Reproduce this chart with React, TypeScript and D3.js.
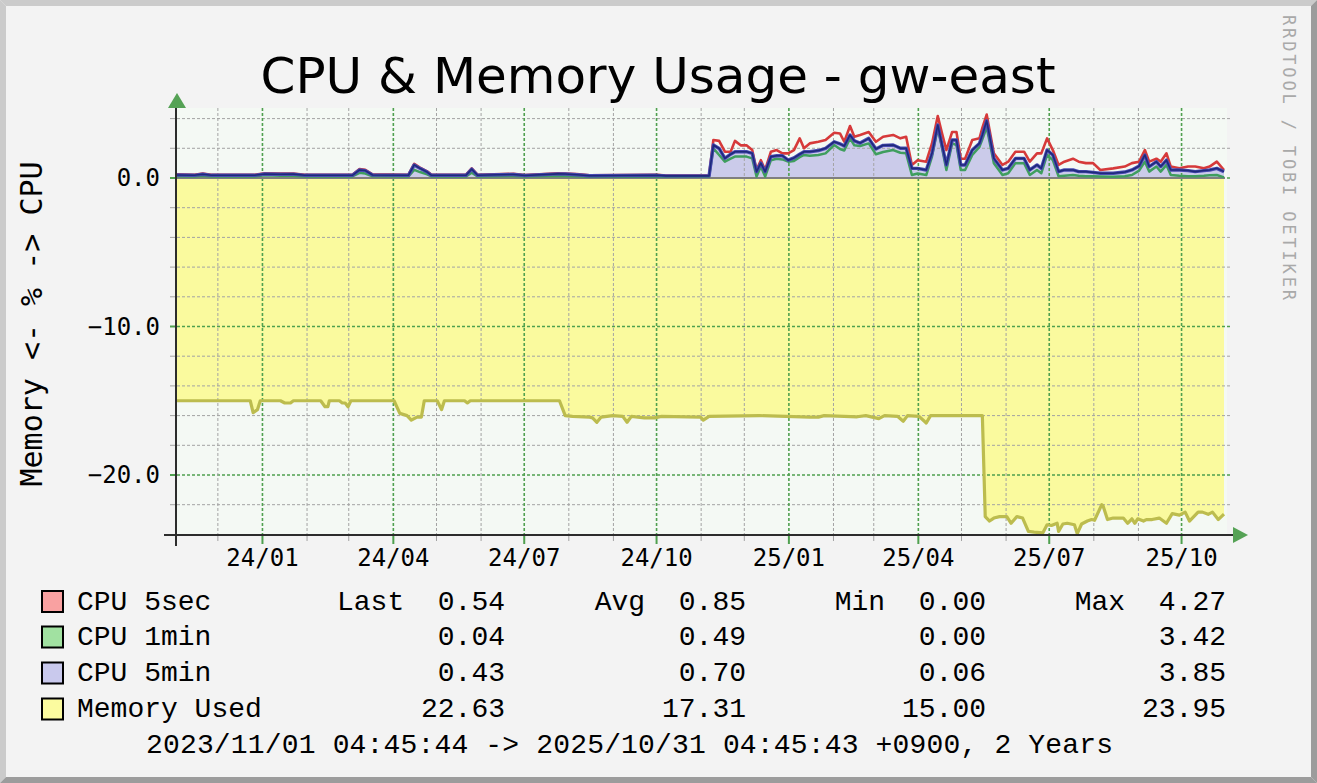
import React from "react";
import * as d3 from "d3";

// ---------- DATA ----------
const titleText = "CPU & Memory Usage - gw-east";
const yAxisTitle = "Memory <- % -> CPU";
const watermark = "RRDTOOL / TOBI OETIKER";
const periodText = "2023/11/01 04:45:44 -> 2025/10/31 04:45:43 +0900, 2 Years";

const cpuDates = [
  "2023-11-01", "2023-11-14", "2023-11-20", "2023-11-26", "2023-12-26", "2024-01-02", "2024-01-13", "2024-01-22",
  "2024-01-30", "2024-03-03", "2024-03-08", "2024-03-12", "2024-03-17", "2024-04-11", "2024-04-15", "2024-04-19",
  "2024-04-24", "2024-04-27", "2024-05-21", "2024-05-25", "2024-05-29", "2024-06-23", "2024-07-01", "2024-07-24",
  "2024-07-29", "2024-08-06", "2024-08-15", "2024-10-01", "2024-10-07", "2024-11-06",
  "2024-11-09", "2024-11-13", "2024-11-17", "2024-11-21", "2024-11-24", "2024-11-28", "2024-12-02", "2024-12-06",
  "2024-12-09", "2024-12-12", "2024-12-15", "2024-12-19", "2024-12-23", "2024-12-27", "2024-12-31", "2025-01-04",
  "2025-01-08", "2025-01-11", "2025-01-15", "2025-01-21", "2025-01-26", "2025-02-01", "2025-02-05", "2025-02-08",
  "2025-02-12", "2025-02-15", "2025-02-19", "2025-02-25", "2025-03-02", "2025-03-07", "2025-03-14", "2025-03-19",
  "2025-03-23", "2025-03-27", "2025-03-31", "2025-04-06", "2025-04-10", "2025-04-14", "2025-04-17", "2025-04-20",
  "2025-04-24", "2025-04-27", "2025-04-30", "2025-05-03", "2025-05-08", "2025-05-13", "2025-05-15", "2025-05-18",
  "2025-05-23", "2025-05-29", "2025-06-02", "2025-06-07", "2025-06-13", "2025-06-17", "2025-06-22", "2025-06-25",
  "2025-06-29", "2025-07-03", "2025-07-07", "2025-07-11", "2025-07-17", "2025-07-21", "2025-07-26", "2025-07-31",
  "2025-08-05", "2025-08-14", "2025-08-22", "2025-08-27", "2025-09-01", "2025-09-05", "2025-09-08", "2025-09-13",
  "2025-09-16", "2025-09-20", "2025-09-23", "2025-09-29", "2025-10-05", "2025-10-10", "2025-10-16", "2025-10-20",
  "2025-10-25", "2025-10-30",
];
const cpu5sec = [
  0.25, 0.22, 0.30, 0.22, 0.22, 0.32, 0.30, 0.30,
  0.22, 0.22, 0.60, 0.55, 0.25, 0.22, 0.95, 0.70,
  0.45, 0.22, 0.22, 0.65, 0.22, 0.28, 0.20, 0.32,
  0.30, 0.26, 0.18, 0.22, 0.16, 0.16,
  2.56, 2.50, 1.77, 1.77, 2.50, 2.20, 2.20, 1.88,
  0.54, 1.20, 0.54, 1.77, 1.88, 1.66, 1.66, 1.88,
  2.67, 2.00, 2.33, 2.44, 2.56, 3.05, 3.00, 2.44,
  3.50, 2.78, 2.90, 3.10, 2.44, 2.78, 2.90, 2.67,
  2.78, 0.88, 1.20, 1.10, 2.33, 4.17, 3.00, 1.88,
  3.10, 3.10, 1.30, 1.30, 2.56, 2.67, 3.37, 4.27,
  1.66, 0.88, 1.10, 1.77, 1.77, 1.10, 1.66, 1.66,
  2.67, 1.88, 0.88, 1.10, 1.30, 1.10, 1.00, 1.00,
  0.54, 0.65, 0.77, 1.00, 1.10, 1.88, 1.10, 1.30,
  1.10, 1.66, 0.77, 0.65, 0.77, 0.77, 0.65, 0.77,
  1.10, 0.54,
];
const cpu1min = [
  0.12, 0.10, 0.15, 0.10, 0.10, 0.18, 0.15, 0.15,
  0.10, 0.10, 0.35, 0.30, 0.12, 0.10, 0.55, 0.40,
  0.25, 0.10, 0.10, 0.35, 0.10, 0.14, 0.10, 0.15,
  0.14, 0.12, 0.08, 0.10, 0.08, 0.08,
  2.00, 1.55, 1.10, 1.30, 1.44, 1.44, 1.44, 1.32,
  0.10, 0.77, 0.10, 1.20, 1.30, 1.25, 1.10, 1.15,
  1.40, 1.55, 1.50, 1.55, 1.66, 2.22, 1.95, 1.85,
  2.67, 2.20, 2.15, 2.33, 1.60, 1.75, 1.88, 1.70,
  1.66, 0.20, 0.30, 0.20, 1.44, 3.35, 2.00, 0.54,
  2.33, 2.22, 0.54, 0.54, 1.55, 2.10, 2.60, 3.42,
  1.00, 0.20, 0.32, 1.00, 1.00, 0.20, 0.54, 0.32,
  1.55, 1.20, 0.12, 0.15, 0.20, 0.15, 0.12, 0.12,
  0.10, 0.08, 0.12, 0.20, 0.50, 1.10, 0.43, 0.77,
  0.43, 0.88, 0.20, 0.15, 0.12, 0.12, 0.15, 0.18,
  0.20, 0.04,
];
const cpu5min = [
  0.20, 0.18, 0.25, 0.18, 0.18, 0.27, 0.25, 0.26,
  0.18, 0.18, 0.54, 0.50, 0.20, 0.18, 0.88, 0.65,
  0.40, 0.18, 0.18, 0.60, 0.18, 0.24, 0.17, 0.28,
  0.27, 0.22, 0.15, 0.18, 0.14, 0.14,
  2.22, 1.99, 1.32, 1.60, 1.77, 1.77, 1.77, 1.66,
  0.43, 1.00, 0.43, 1.44, 1.50, 1.50, 1.20, 1.35,
  1.60, 1.77, 1.77, 1.85, 2.00, 2.44, 2.30, 2.15,
  2.90, 2.50, 2.35, 2.67, 1.95, 2.20, 2.22, 2.00,
  2.00, 0.65, 0.65, 0.54, 1.66, 3.57, 2.22, 0.88,
  2.56, 2.56, 0.88, 0.88, 1.88, 2.33, 2.90, 3.85,
  1.32, 0.54, 0.65, 1.32, 1.32, 0.54, 0.88, 0.65,
  1.88, 1.55, 0.43, 0.54, 0.54, 0.43, 0.43, 0.38,
  0.32, 0.32, 0.40, 0.54, 0.80, 1.55, 0.77, 1.10,
  0.77, 1.20, 0.54, 0.54, 0.50, 0.43, 0.50, 0.54,
  0.65, 0.43,
];

const memDates = [
  "2023-11-01", "2023-12-23", "2023-12-25", "2023-12-28", "2023-12-30", "2024-01-13", "2024-01-16", "2024-01-20",
  "2024-01-22", "2024-02-10", "2024-02-13", "2024-02-15", "2024-02-16", "2024-02-23", "2024-02-25", "2024-02-27",
  "2024-02-29", "2024-03-02", "2024-04-01", "2024-04-05", "2024-04-10", "2024-04-13", "2024-04-17", "2024-04-20",
  "2024-04-22", "2024-05-01", "2024-05-04", "2024-05-06", "2024-05-20", "2024-05-22", "2024-05-24", "2024-07-25",
  "2024-07-29", "2024-08-03", "2024-08-15", "2024-08-17", "2024-08-20", "2024-08-23", "2024-08-31", "2024-09-07",
  "2024-09-10", "2024-09-13", "2024-09-22", "2024-09-29", "2024-10-04", "2024-10-31", "2024-11-02", "2024-11-06",
  "2024-12-11", "2025-01-15", "2025-01-21", "2025-01-25", "2025-02-17", "2025-02-23", "2025-03-04", "2025-03-08",
  "2025-03-17", "2025-03-21", "2025-03-24", "2025-04-01", "2025-04-06", "2025-04-09", "2025-05-15", "2025-05-17",
  "2025-05-20", "2025-05-23", "2025-05-27", "2025-06-01", "2025-06-04", "2025-06-08", "2025-06-12", "2025-06-16",
  "2025-06-20", "2025-06-26", "2025-06-29", "2025-07-02", "2025-07-06", "2025-07-07", "2025-07-10", "2025-07-13",
  "2025-07-18", "2025-07-20", "2025-07-23", "2025-07-27", "2025-07-30", "2025-08-01", "2025-08-06", "2025-08-07",
  "2025-08-10", "2025-08-14", "2025-08-21", "2025-08-24", "2025-08-27", "2025-08-29", "2025-08-31", "2025-09-04",
  "2025-09-06", "2025-09-10", "2025-09-15", "2025-09-20", "2025-09-24", "2025-09-29", "2025-10-03", "2025-10-06",
  "2025-10-12", "2025-10-15", "2025-10-19", "2025-10-22", "2025-10-26", "2025-10-30",
];
const memUsed = [
  15.0, 15.0, 15.8, 15.6, 15.0, 15.0, 15.15, 15.15,
  15.0, 15.0, 15.4, 15.4, 15.0, 15.0, 15.15, 15.15,
  15.4, 15.0, 15.0, 15.85, 16.0, 16.3, 16.1, 16.1,
  15.0, 15.0, 15.6, 15.0, 15.0, 15.15, 15.0, 15.0,
  16.0, 16.05, 16.1, 16.15, 16.45, 16.1, 16.0, 16.05,
  16.45, 16.05, 16.15, 16.15, 16.05, 16.1, 16.3, 16.05,
  16.0, 16.1, 16.1, 16.0, 16.08, 16.0, 16.2, 16.0,
  16.05, 16.38, 16.0, 16.05, 16.5, 16.0, 16.0, 22.8,
  23.1, 22.9, 22.8, 22.8, 23.25, 22.8, 22.9, 23.8,
  23.85, 23.9, 23.35, 23.4, 23.25, 23.8, 23.3, 23.25,
  23.35, 23.95, 23.3, 23.1, 23.0, 23.05, 22.0, 22.1,
  23.0, 22.9, 22.9, 23.25, 22.95, 23.25, 22.95, 23.1,
  23.0, 23.0, 22.9, 23.25, 22.6, 22.7, 22.5, 23.1,
  22.5, 22.5, 22.65, 22.5, 23.0, 22.63,
];

const legendLabels = ["CPU 5sec", "CPU 1min", "CPU 5min", "Memory Used"];
const legendLast = ["0.54", "0.04", "0.43", "22.63"];
const legendAvg = ["0.85", "0.49", "0.70", "17.31"];
const legendMin = ["0.00", "0.00", "0.06", "15.00"];
const legendMax = ["4.27", "3.42", "3.85", "23.95"];
const legendSwatch = ["#f9a1a1", "#a1e1a1", "#c9c9ed", "#fbfb9f"];

const yLabelValues = [0, -10, -20];
const startTime = Date.UTC(2023, 10, 1, 4, 45, 44);
const endTime = Date.UTC(2025, 9, 31, 4, 45, 43);

// ---------- HELPERS ----------
const parseDay = (s: string) => {
  const [yy, mm, dd] = s.split("-").map(Number);
  return new Date(Date.UTC(yy, mm - 1, dd, 12));
};

export default function App() {
  const W = 1317, H = 783;
  const cL = 177, cR = 1227, cT = 108, cB = 535;
  const x = d3.scaleUtc().domain([new Date(startTime), new Date(endTime)]).range([175, 1225]);
  const y = d3.scaleLinear().domain([-24, 4.7]).range([534.4, 108.2]);

  const cpu = cpuDates.map((d, i) => ({ t: parseDay(d), r: cpu5sec[i], g: cpu1min[i], b: cpu5min[i] }));
  const mem = memDates.map((d, i) => ({ t: parseDay(d), v: memUsed[i] }));

  const memArea = d3.area<any>().x(d => x(d.t)).y0(y(0)).y1(d => y(-d.v))(mem) || "";
  const memLine = d3.line<any>().x(d => x(d.t)).y(d => y(-d.v))(mem) || "";
  const cpuArea = d3.area<any>().x(d => x(d.t)).y0(y(0)).y1(d => y(d.b))(cpu) || "";
  const lineR = d3.line<any>().x(d => x(d.t)).y(d => y(d.r))(cpu) || "";
  const lineG = d3.line<any>().x(d => x(d.t)).y(d => y(d.g))(cpu) || "";
  const lineB = d3.line<any>().x(d => x(d.t)).y(d => y(d.b))(cpu) || "";

  const months = d3.utcMonth.range(new Date(startTime), new Date(endTime));
  const fmt = d3.utcFormat("%y/%m");
  const hVals = d3.range(-22, 5, 2);

  const green = "#4fa04f";
  const gray = "#a3a3a3";
  const mono = "'DejaVu Sans Mono', monospace";
  const legendFont = "'Liberation Mono', 'Courier New', monospace";
  const rowBase = [609.5, 645, 681, 717];

  return (
    <svg width={W} height={H} style={{ position: "absolute", left: 0, top: 0, display: "block" }}>
      <rect x={0} y={0} width={W} height={H} fill="#f3f3f3" />
      {/* bevel frame */}
      <polygon points={`0,0 ${W},0 ${W - 6},6 6,6`} fill="#cbcbcb" />
      <polygon points={`0,0 6,6 6,${H - 6} 0,${H}`} fill="#cbcbcb" />
      <polygon points={`${W},0 ${W},${H} ${W - 6},${H - 6} ${W - 6},6`} fill="#9c9c9c" />
      <polygon points={`0,${H} ${W},${H} ${W - 6},${H - 6} 6,${H - 6}`} fill="#9c9c9c" />

      {/* title */}
      <text x={658} y={93} textAnchor="middle" fontFamily="'DejaVu Sans', sans-serif" fontSize={50} fill="#000">{titleText}</text>

      {/* watermark */}
      <text transform="translate(1283,15) rotate(90)" fontFamily={mono} fontSize={17} fill="#a9a9a9"
        textLength={285} lengthAdjust="spacing">{watermark}</text>

      {/* y axis title */}
      <text transform="translate(42,324) rotate(-90)" textAnchor="middle" fontFamily={mono} fontSize={30} fill="#000"
        style={{ whiteSpace: "pre" }}>{yAxisTitle}</text>

      {/* canvas */}
      <rect x={cL} y={cT} width={cR - cL} height={cB - cT} fill="#f4f9f4" />
      <path d={memArea} fill="#fafa9e" />
      <path d={cpuArea} fill="#cbcbea" />

      {/* horizontal grid */}
      {hVals.map(v => {
        const major = v % 10 === 0;
        const yy = y(v);
        return (
          <g key={"h" + v}>
            <line x1={170} x2={cL} y1={yy} y2={yy} stroke={major ? green : gray} strokeWidth={major ? 2 : 1} />
            <line x1={cL} x2={1232} y1={yy} y2={yy} stroke={major ? green : gray} strokeWidth={major ? 1.6 : 1}
              strokeDasharray="3,2" />
          </g>
        );
      })}
      {/* vertical grid */}
      {months.map(m => {
        const major = m.getUTCMonth() % 3 === 0;
        const xx = x(m);
        return (
          <g key={"v" + m.getTime()}>
            <line x1={xx} x2={xx} y1={cT} y2={cB} stroke={major ? green : gray} strokeWidth={major ? 1.6 : 1}
              strokeDasharray="3,2" />
            <line x1={xx} x2={xx} y1={cB} y2={major ? 544 : 541} stroke={major ? green : gray} strokeWidth={major ? 2 : 1} />
          </g>
        );
      })}

      {/* zero rule */}
      <line x1={cL} x2={1225} y1={y(0)} y2={y(0)} stroke="#7f7f7f" strokeWidth={2} />

      {/* series lines */}
      <path d={memLine} fill="none" stroke="#bcbc4e" strokeWidth={3.2} strokeLinejoin="round" />
      <path d={lineG} fill="none" stroke="#3f9e5e" strokeWidth={2.5} strokeLinejoin="round" />
      <path d={lineR} fill="none" stroke="#d63a3a" strokeWidth={2.6} strokeLinejoin="round" />
      <path d={lineB} fill="none" stroke="#4a4ab4" strokeWidth={3.4} strokeLinejoin="round" />
      <path d={lineB} fill="none" stroke="#1e2a7a" strokeWidth={1.6} strokeLinejoin="round" />

      {/* axes */}
      <line x1={164} x2={1234} y1={cB} y2={cB} stroke="#2c2c2c" strokeWidth={2} />
      <line x1={176} x2={176} y1={104} y2={546} stroke="#2c2c2c" strokeWidth={2} />
      <polygon points="168,108 186,108 177,93" fill="#55a255" />
      <polygon points="1233,527 1233,543 1248,535" fill="#55a255" />

      {/* y labels */}
      {yLabelValues.map(v => (
        <text key={"yl" + v} x={160} y={y(v) + 8.5} textAnchor="end" fontFamily={mono} fontSize={24} fill="#000">
          {d3.format(".1f")(v)}
        </text>
      ))}
      {/* x labels */}
      {months.filter(m => m.getUTCMonth() % 3 === 0).map(m => (
        <text key={"xl" + m.getTime()} x={x(m)} y={566} textAnchor="middle" fontFamily={mono} fontSize={24} fill="#000">
          {fmt(m)}
        </text>
      ))}

      {/* legend */}
      {legendLabels.map((lab, i) => (
        <g key={"lg" + i}>
          <rect x={42} y={rowBase[i] - 18.5} width={21} height={21} fill={legendSwatch[i]} stroke="#000" strokeWidth={2} />
          <text x={77} y={rowBase[i]} fontFamily={legendFont} fontSize={28} fill="#000">{lab}</text>
          <text x={505} y={rowBase[i]} textAnchor="end" fontFamily={legendFont} fontSize={28} fill="#000" style={{ whiteSpace: "pre" }}>
            {(i === 0 ? "Last  " : "") + legendLast[i]}
          </text>
          <text x={746} y={rowBase[i]} textAnchor="end" fontFamily={legendFont} fontSize={28} fill="#000" style={{ whiteSpace: "pre" }}>
            {(i === 0 ? "Avg  " : "") + legendAvg[i]}
          </text>
          <text x={986} y={rowBase[i]} textAnchor="end" fontFamily={legendFont} fontSize={28} fill="#000" style={{ whiteSpace: "pre" }}>
            {(i === 0 ? "Min  " : "") + legendMin[i]}
          </text>
          <text x={1226} y={rowBase[i]} textAnchor="end" fontFamily={legendFont} fontSize={28} fill="#000" style={{ whiteSpace: "pre" }}>
            {(i === 0 ? "Max  " : "") + legendMax[i]}
          </text>
        </g>
      ))}
      <text x={146} y={753} fontFamily={legendFont} fontSize={28} fill="#000" style={{ whiteSpace: "pre" }}
        textLength={967} lengthAdjust="spacing">{periodText}</text>
    </svg>
  );
}
